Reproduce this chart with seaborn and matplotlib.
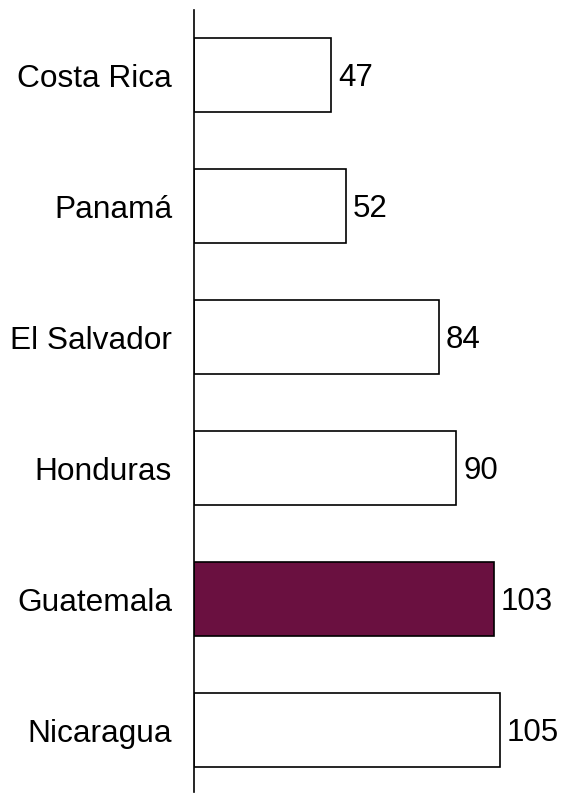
import matplotlib
matplotlib.use("Agg")
import matplotlib.pyplot as plt
import seaborn as sns
import pandas as pd

countries = ["Costa Rica", "Panamá", "El Salvador", "Honduras", "Guatemala", "Nicaragua"]
values = [47, 52, 84, 90, 103, 105]
highlight = "Guatemala"

sns.set_theme(style="white")
plt.rcParams['font.family'] = ['Liberation Sans', 'DejaVu Sans']

df = pd.DataFrame({"country": countries, "value": values})
palette = {c: ("#6A1040" if c == highlight else "white") for c in countries}

fig = plt.figure(figsize=(5.61, 7.93), dpi=100)
ax = fig.add_axes([194 / 561, 1 / 793, 367 / 561, 782 / 793])
sns.barplot(data=df, x="value", y="country", hue="country", palette=palette,
            order=countries, dodge=False, legend=False, width=0.565,
            edgecolor="black", linewidth=1.2, saturation=1, ax=ax)

for cont in ax.containers:
    for patch in cont:
        w = patch.get_width()
        yc = patch.get_y() + patch.get_height() / 2
        ax.annotate(f"{w:.0f}", xy=(w, yc), xytext=(5, -1.5), textcoords="offset points",
                    ha="left", va="center", fontsize=22.5, color="black")

ax.set_xlim(0, 367 / 2.914)
ax.set_ylim(5.47, -0.5)
ax.set_xlabel("")
ax.set_ylabel("")
ax.set_xticks([])
ax.tick_params(axis="y", length=0, pad=15.8, labelsize=22.8, labelcolor="black")
for s in ["top", "right", "bottom"]:
    ax.spines[s].set_visible(False)
ax.spines["left"].set_color("black")
ax.spines["left"].set_linewidth(1.2)

fig.savefig("out.png", dpi=100)
